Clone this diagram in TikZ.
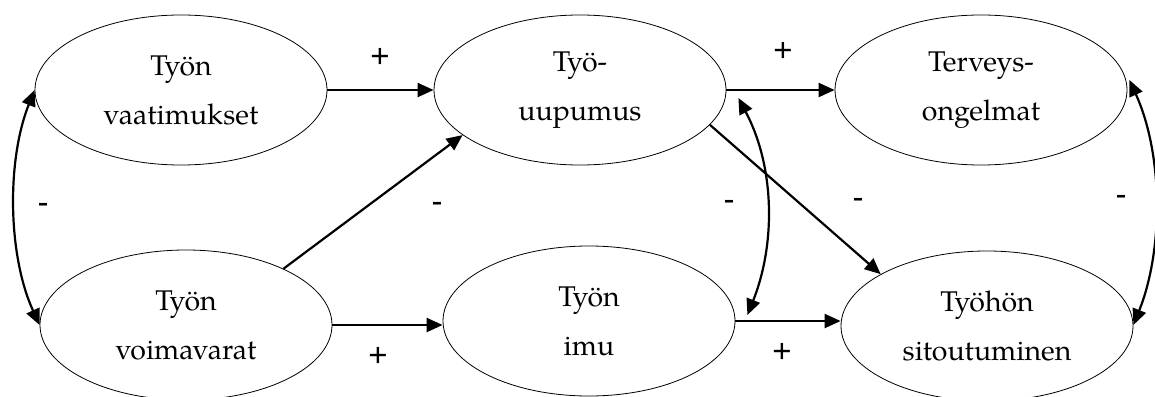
\documentclass[tikz,border=0pt]{standalone}
\usepackage{fontspec}
\setmainfont{TeX Gyre Pagella}
\newfontfamily\labelfont{Liberation Sans}
\usetikzlibrary{arrows.meta,calc,shapes.geometric}
\tikzset{
  ell/.style={draw, ellipse, line width=0.8pt, minimum width=292pt, minimum height=150pt,
    inner sep=0pt, align=center, font=\fontsize{28.5pt}{49pt}\selectfont},
  arr/.style={line width=2.2pt, -{Triangle[length=16pt,width=14pt]}},
  darr/.style={line width=2.2pt, {Triangle[length=16pt,width=14pt]}-{Triangle[length=16pt,width=14pt]}},
  sign/.style={font=\labelfont\fontsize{33pt}{38pt}\selectfont, inner sep=0pt}
}
\begin{document}
\begin{tikzpicture}[x=1pt,y=-1pt]
\useasboundingbox (0,0) rectangle (1155,396);
\node[ell] (e1) at (181,90) {Työn\\vaatimukset};
\node[ell] (e3) at (580,90) {Työ-\\uupumus};
\node[ell] (e5) at (981,90) {Terveys-\\ongelmat};
\node[ell] (e2) at (186,325) {Työn\\voimavarat};
\node[ell] (e4) at (589,321) {Työn\\imu};
\node[ell] (e6) at (987,326) {Työhön\\sitoutuminen};

\draw[arr] (e1.east) -- (e1.east -| e3.west);
\draw[arr] (e3.east) -- (e3.east -| e5.west);
\draw[arr] (e2.east) -- (e2.east -| e4.west);
\draw[arr] (e4.east) -- (e4.east -| e6.west);
\draw[arr] (e2.30) -- (e3.201);
\draw[arr] (e3.-15) -- (e6.154);

\coordinate (m1) at ($(e3.east)+(12,8)$);
\coordinate (m2) at ($(e4.east)+(12,-6)$);
\coordinate (r1) at ($(e5.east)+(2,-10)$);
\coordinate (r2) at ($(e6.east)+(0,-1)$);
\draw[darr] (e1.west) .. controls +(-28,70) and +(-32,-70) .. (e2.west);
\draw[darr] (m1) .. controls +(37,70) and +(28,-70) .. (m2);
\draw[darr] (r1) .. controls +(34,75) and +(30,-75) .. (r2);

\node[sign] (l1) at (380,58) {+};
\node[sign] (l2) at (378,357) {+};
\node[sign] (l3) at (783,52) {+};
\node[sign] (l4) at (782,353) {+};
\node[sign] (l5) at (43,208) {-};
\node[sign] (l6) at (437,207) {-};
\node[sign] (l7) at (729,205) {-};
\node[sign] (l8) at (858,203) {-};
\node[sign] (l9) at (1121,200) {-};
\end{tikzpicture}
\end{document}
